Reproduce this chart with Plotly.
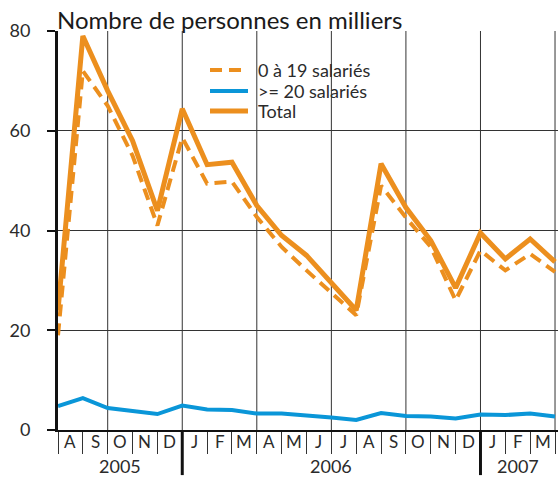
import plotly.graph_objects as go

# Data: monthly points (month boundaries), Aug 2005 .. Mar 2007
x_idx = list(range(21))
small = [19, 72, 65, 55, 41, 58.6, 49.4, 49.8, 42.7, 36.7, 32, 27.4, 23, 49, 42.6, 36.7, 26, 36, 32, 35.3, 31.7]
large = [4.8, 6.4, 4.4, 3.9, 3.2, 4.9, 4.1, 4.0, 3.3, 3.3, 3.0, 2.5, 2.0, 3.4, 2.8, 2.7, 2.3, 3.1, 3.0, 3.3, 2.7]
total = [24, 79, 68, 58, 44, 64.4, 53.2, 53.7, 45, 39, 35, 29.5, 24, 53.4, 44.6, 38, 28.5, 39.5, 34.3, 38.3, 33.7]
series_names = ["0 à 19 salariés", ">= 20 salariés", "Total"]

month_labels = ["A", "S", "O", "N", "D", "J", "F", "M", "A", "M", "J", "J", "A", "S", "O", "N", "D", "J", "F", "M"]
year_labels = ["2005", "2006", "2007"]
year_pos = [2.5, 11, 18.5]
year_breaks = [5, 17]
grid_x = [2, 5, 8, 11, 14, 17, 20]

ORANGE = "#EC8F1E"
BLUE = "#0A96D8"
FONT = "Lato"
TXT = "#2b2b2b"

styles = [dict(color=ORANGE, width=4, dash="12px,7px"),
          dict(color=BLUE, width=4),
          dict(color=ORANGE, width=5)]

fig = go.Figure()
for name, ys, st in zip(series_names, [small, large, total], styles):
    fig.add_trace(go.Scatter(x=x_idx, y=ys, mode="lines", name=name, line=st, showlegend=False))

shapes = []
for gx in grid_x:
    shapes.append(dict(type="line", xref="x", yref="paper", x0=gx, x1=gx, y0=0, y1=1,
                       line=dict(color="#333333", width=1), layer="below"))
for yb in year_breaks:
    shapes.append(dict(type="line", xref="x", yref="paper", x0=yb, x1=yb, y0=0, y1=-0.113,
                       line=dict(color="#111111", width=3)))

annotations = []
# custom legend
leg_y = [0.902, 0.8496, 0.7995]
for name, st, ly in zip(series_names, styles, leg_y):
    shapes.append(dict(type="line", xref="paper", yref="paper", x0=0.304, x1=0.38, y0=ly, y1=ly,
                       line=st))
    annotations.append(dict(x=0.398, y=ly, xref="paper", yref="paper", text=name, showarrow=False,
                            xanchor="left", yanchor="middle", borderpad=0,
                            font=dict(family=FONT, size=18, color=TXT)))

for i, m in enumerate(month_labels):
    annotations.append(dict(x=i + 0.5, y=-0.028, xref="x", yref="paper", text=m, showarrow=False,
                            xanchor="center", yanchor="middle", font=dict(family=FONT, size=17, color=TXT)))
for yl, yp in zip(year_labels, year_pos):
    annotations.append(dict(x=yp, y=-0.09, xref="x", yref="paper", text=yl, showarrow=False,
                            xanchor="center", yanchor="middle", font=dict(family=FONT, size=18, color=TXT)))
annotations.append(dict(x=0, y=1.03, xref="paper", yref="paper", text="Nombre de personnes en milliers",
                        showarrow=False, xanchor="left", yanchor="middle", xshift=-3,
                        font=dict(family=FONT, size=24, color="#1a1a1a")))

fig.update_layout(
    width=558, height=480,
    margin=dict(l=58, r=0, t=31, b=50),
    paper_bgcolor="white", plot_bgcolor="white",
    showlegend=False,
    shapes=shapes, annotations=annotations,
    xaxis=dict(range=[0, 20.12], tickvals=x_idx, showticklabels=False, ticks="outside", ticklen=22,
               tickcolor="#333333", tickwidth=1, showgrid=False, zeroline=False,
               showline=True, linecolor="#111111", linewidth=2),
    yaxis=dict(range=[0, 80], tickvals=[0, 20, 40, 60, 80], ticks="outside", ticklen=8,
               tickcolor="#111111", tickwidth=1.5, showgrid=True, gridcolor="#333333", gridwidth=1,
               zeroline=False, showline=True, linecolor="#111111", linewidth=3,
               tickfont=dict(family=FONT, size=18, color=TXT), ticklabelstandoff=13),
)

fig.write_html("out.html", config={"displayModeBar": False},
               post_script="document.body.style.margin='0px';")
